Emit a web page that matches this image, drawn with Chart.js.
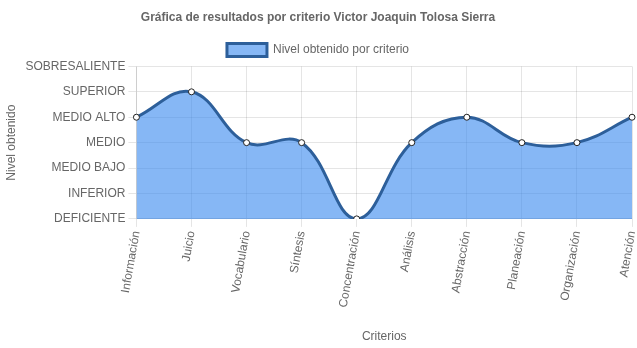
<!DOCTYPE html>
<html><head><meta charset="utf-8">
<script src="https://cdn.jsdelivr.net/npm/chart.js@4/dist/chart.umd.min.js"></script>
<style>html,body{margin:0;padding:0;background:#fff}#wrap{width:637px;height:348px}</style>
</head><body><div id="wrap"><canvas id="c"></canvas></div>
<script>
const categories = ["Información","Juicio","Vocabulario","Síntesis","Concentración","Análisis","Abstracción","Planeación","Organización","Atención"];
const values = [5,6,4,4,1,4,5,4,4,5];
const levelLabels = ["","DEFICIENTE","INFERIOR","MEDIO BAJO","MEDIO","MEDIO ALTO","SUPERIOR","SOBRESALIENTE"];
Chart.defaults.font.family = "'Liberation Sans', Arial, sans-serif";
Chart.defaults.color = "#666";
new Chart(document.getElementById('c'), {
  type: 'line',
  data: { labels: categories, datasets: [{
    label: 'Nivel obtenido por criterio',
    data: values,
    fill: true,
    backgroundColor: 'rgba(53,135,238,0.6)',
    borderColor: '#2d5f9a',
    borderWidth: 3,
    tension: 0.4,
    pointRadius: 3,
    pointBackgroundColor: '#fff',
    pointBorderColor: '#222',
    pointBorderWidth: 1
  }]},
  options: {
    responsive: true, maintainAspectRatio: false, animation: false,
    layout: { padding: { right: 1 } },
    plugins: {
      title: { display: true, text: 'Gráfica de resultados por criterio Victor Joaquin Tolosa Sierra', font: { size: 12, weight: 'bold' }, padding: { top: 10, bottom: 11 } },
      legend: { labels: { font: { size: 12 }, boxWidth: 40, boxHeight: 13, padding: 8 } },
      tooltip: { enabled: false }
    },
    scales: {
      x: {
        title: { display: true, text: 'Criterios', font: { size: 12 }, padding: { top: 18, bottom: 4 } },
        ticks: { minRotation: 80, maxRotation: 80, font: { size: 12 } },
        grid: { color: 'rgba(0,0,0,0.1)' },
        afterFit: (s) => { s.paddingRight = 0; }
      },
      y: {
        min: 1, max: 7,
        title: { display: true, text: 'Nivel obtenido', font: { size: 12 } },
        ticks: { stepSize: 1, font: { size: 12 }, callback: v => levelLabels[v] },
        grid: { color: 'rgba(0,0,0,0.1)' }
      }
    }
  }
});
</script></body></html>
